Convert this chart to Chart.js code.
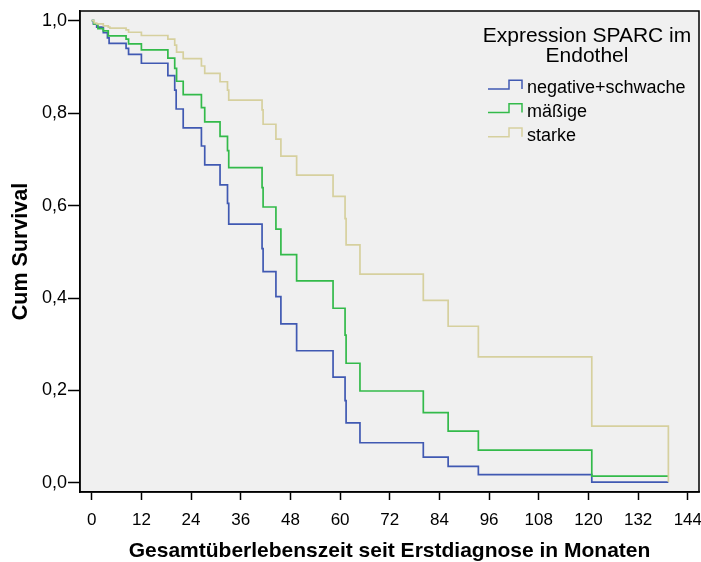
<!DOCTYPE html>
<html>
<head>
<meta charset="utf-8">
<script src="https://cdn.jsdelivr.net/npm/chart.js@4.4.1/dist/chart.umd.min.js"></script>
<style>
  html, body { margin: 0; padding: 0; background: #ffffff; }
  #wrap { width: 701px; height: 562px; }
</style>
</head>
<body>
<div id="wrap"><canvas id="c" width="701" height="562"></canvas></div>
<script>
// ---- data ----
const seriesNames = ["negative+schwache", "mäßige", "starke"];
const legendTitle = ["Expression SPARC im", "Endothel"];
const xTitle = "Gesamtüberlebenszeit seit Erstdiagnose in Monaten";
const yTitle = "Cum Survival";
const xTicks = [0, 12, 24, 36, 48, 60, 72, 84, 96, 108, 120, 132, 144];
const yTicks = [0, 0.2, 0.4, 0.6, 0.8, 1.0];
const yTickLabels = ["0,0", "0,2", "0,4", "0,6", "0,8", "1,0"];

const timesNeg = [0, 0.4, 1.2, 2.8, 3.8, 4.2, 8.3, 8.9, 12.0, 18.4, 20.05, 20.4, 22.1, 26.5, 27.3, 31.0, 32.8, 33.1, 41.15, 41.4, 44.5, 45.7, 49.5, 58.3, 61.2, 61.45, 64.8, 80.1, 86.1, 93.4, 120.8, 139.3];
const survNeg  = [1, 0.993, 0.986, 0.974, 0.963, 0.951, 0.940, 0.927, 0.908, 0.881, 0.850, 0.809, 0.768, 0.729, 0.688, 0.645, 0.605, 0.560, 0.507, 0.457, 0.403, 0.344, 0.286, 0.229, 0.178, 0.130, 0.087, 0.056, 0.036, 0.018, 0.002, 0.002];

const timesMod = [0, 0.5, 1.5, 2.8, 4.0, 8.3, 8.9, 12.0, 18.4, 20.05, 20.5, 22.1, 26.5, 27.3, 31.0, 32.8, 33.1, 41.15, 41.4, 44.5, 45.7, 49.5, 58.3, 61.2, 61.45, 64.8, 80.1, 86.1, 93.4, 120.8, 139.3];
const survMod  = [1, 0.993, 0.983, 0.978, 0.967, 0.960, 0.950, 0.937, 0.919, 0.897, 0.869, 0.840, 0.812, 0.781, 0.750, 0.719, 0.682, 0.639, 0.597, 0.549, 0.494, 0.437, 0.378, 0.320, 0.259, 0.199, 0.152, 0.112, 0.071, 0.015, 0.015];

const timesStr = [0, 0.6, 1.2, 2.8, 4.0, 4.4, 8.3, 8.9, 12.0, 18.4, 20.05, 20.5, 22.1, 26.5, 27.3, 31.0, 32.8, 33.1, 41.15, 41.4, 44.5, 45.7, 49.5, 58.3, 61.2, 61.45, 64.8, 80.1, 86.1, 93.4, 120.8, 139.3];
const survStr  = [1, 0.995, 0.993, 0.989, 0.986, 0.984, 0.980, 0.975, 0.968, 0.960, 0.947, 0.932, 0.918, 0.902, 0.886, 0.868, 0.850, 0.828, 0.807, 0.776, 0.744, 0.707, 0.666, 0.620, 0.572, 0.515, 0.452, 0.395, 0.339, 0.273, 0.123, 0.002];

const colors = ["#4059B2", "#33BA4A", "#D6D09E"];
const FONT = "'Liberation Sans', Arial, sans-serif";

function toPoints(ts, ss) { return ts.map((t, i) => ({ x: t, y: ss[i] })); }

const bgPlugin = {
  id: 'bg',
  beforeDraw(chart) {
    const { ctx, chartArea: a } = chart;
    ctx.save();
    ctx.fillStyle = '#ffffff';
    ctx.fillRect(0, 0, chart.width, chart.height);
    ctx.fillStyle = '#F0F0F0';
    ctx.fillRect(a.left, a.top, a.right - a.left, a.bottom - a.top);
    ctx.restore();
  },
  afterDraw(chart) {
    const { ctx, chartArea: a } = chart;
    ctx.save();
    ctx.strokeStyle = '#000';
    ctx.lineWidth = 1.5;
    ctx.strokeRect(a.left, a.top, a.right - a.left, a.bottom - a.top);
    // legend
    ctx.fillStyle = '#000';
    ctx.textAlign = 'center';
    ctx.textBaseline = 'alphabetic';
    ctx.font = '21px ' + FONT;
    ctx.fillText(legendTitle[0], 587, 41.5);
    ctx.fillText(legendTitle[1], 587, 61.5);
    ctx.font = '18px ' + FONT;
    ctx.textAlign = 'left';
    const rowBase = [93.3, 116.7, 141];
    for (let i = 0; i < seriesNames.length; i++) {
      const yb = rowBase[i];
      const low = yb - 4.3, high = yb - 13;
      ctx.strokeStyle = colors[i];
      ctx.lineWidth = 1.5;
      ctx.beginPath();
      ctx.moveTo(488, low);
      ctx.lineTo(509, low);
      ctx.lineTo(509, high);
      ctx.lineTo(522, high);
      ctx.lineTo(522, low);
      ctx.stroke();
      ctx.fillStyle = '#000';
      ctx.fillText(seriesNames[i], 527, yb);
    }
    ctx.restore();
  }
};

const mkDs = (label, ts, ss, c) => ({
  label, data: toPoints(ts, ss), borderColor: c, backgroundColor: c,
  borderWidth: 1.7, pointRadius: 0, stepped: 'before', fill: false
});

new Chart(document.getElementById('c'), {
  type: 'line',
  data: {
    datasets: [
      mkDs(seriesNames[2], timesStr, survStr, colors[2]),
      mkDs(seriesNames[1], timesMod, survMod, colors[1]),
      mkDs(seriesNames[0], timesNeg, survNeg, colors[0])
    ]
  },
  options: {
    responsive: false,
    animation: false,
    devicePixelRatio: 1,
    layout: { padding: { top: 11, right: 2, left: 0, bottom: 0 } },
    plugins: { legend: { display: false }, tooltip: { enabled: false } },
    scales: {
      x: {
        type: 'linear',
        min: -2.83, max: 146.7,
        afterBuildTicks: (s) => { s.ticks = xTicks.map(v => ({ value: v })); },
        afterFit: (s) => { s.height = 70; s.paddingLeft = 0; s.paddingRight = 0; },
        grid: { display: true, drawOnChartArea: false, drawTicks: true, tickLength: 8, tickColor: '#000', tickWidth: 1.5 },
        border: { display: true, color: '#000', width: 1.5 },
        ticks: { color: '#000', font: { family: FONT, size: 17 }, padding: 10, maxRotation: 0, autoSkip: false },
        title: { display: true, text: xTitle, color: '#000', font: { family: FONT, size: 21, weight: 'bold' }, padding: { top: 0, bottom: -2 } }
      },
      y: {
        type: 'linear',
        min: -0.0195, max: 1.021,
        afterBuildTicks: (s) => { s.ticks = yTicks.map(v => ({ value: v })); },
        afterFit: (s) => { s.width = 80; s.paddingTop = 0; s.paddingBottom = 0; },
        grid: { display: true, drawOnChartArea: false, drawTicks: true, tickLength: 12, tickColor: '#000', tickWidth: 1.5 },
        border: { display: true, color: '#000', width: 1.5 },
        ticks: {
          color: '#000', font: { family: FONT, size: 18 }, padding: 1,
          callback: (v) => { const i = yTicks.findIndex(t => Math.abs(t - v) < 1e-6); return i >= 0 ? yTickLabels[i] : ''; }
        },
        title: { display: true, text: yTitle, color: '#000', font: { family: FONT, size: 21.5, weight: 'bold' }, padding: { top: 8, bottom: 0 } }
      }
    }
  },
  plugins: [bgPlugin]
});
</script>
</body>
</html>
